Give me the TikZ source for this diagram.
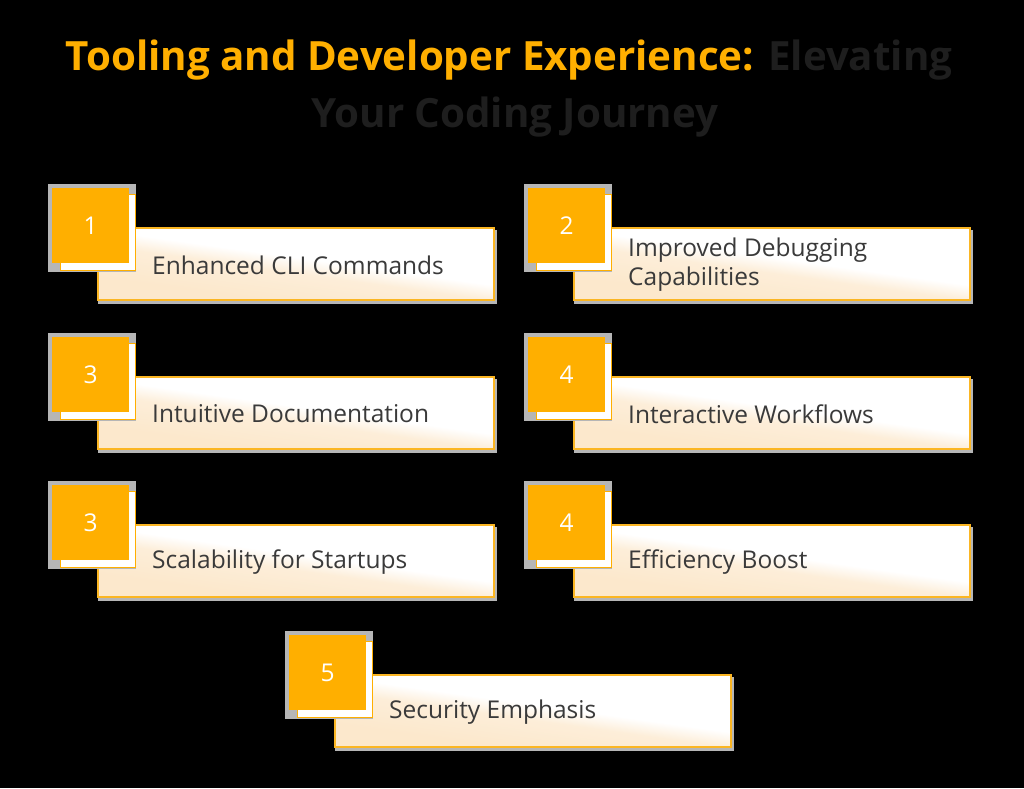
\documentclass[tikz,border=0pt]{standalone}
\usepackage{fontspec}
\setmainfont{Open Sans}
\definecolor{tile orange}{RGB}{255,175,0}
\definecolor{card edge}{RGB}{251,182,35}
\definecolor{card peach}{RGB}{252,232,204}
\definecolor{label grey}{RGB}{58,58,58}
\definecolor{shadow grey}{RGB}{182,182,182}
\definecolor{title dark}{RGB}{30,30,30}
\pgfdeclareverticalshading{card fade}{100bp}{color(0bp)=(card peach); color(32bp)=(card peach); color(46bp)=(card peach!75!white); color(53bp)=(white); color(100bp)=(white)}
\tikzset{numbox/.style={fill=tile orange, text=white, minimum width=77pt, minimum height=75pt,
		inner sep=0pt, anchor=north west, font=\fontsize{24.5}{28}\selectfont},
	backsquare/.style={fill=white, draw=tile orange, line width=1.2pt},
	cardbox/.style={shading=card fade, shading angle=-8, draw=card edge, line width=2pt},
	cardshadow/.style={fill=shadow grey},
	itemlabel/.style={text=label grey, font=\fontsize{24.5}{29}\selectfont, align=left,
		anchor=west, inner sep=0pt},
	titleline/.style={text=title dark, anchor=base, inner sep=0pt,
		font=\bfseries\fontsize{40.3}{56}\selectfont}}
% name, x, y (top left of the number tile), number, text
\newcommand\itemcard[5]{%
	\fill[cardshadow] (#2+46,#3+42) rectangle (#2+445,#3+116);
	\shadedraw[cardbox] (#2+46,#3+40) rectangle (#2+442,#3+112);
	\fill[cardshadow] (#2-4,#3-4) rectangle (#2+84,#3+84);
	\draw[backsquare] (#2+8.6,#3+6.6) rectangle (#2+83.4,#3+82.4);
	\node[numbox] (#1) at (#2,#3) {#4};
	\node[itemlabel] (#1 text) at (#2+100,#3+77) {#5};}

\begin{document}
\begin{tikzpicture}[x=1pt,y=-1pt]
		\fill[black] (0,0) rectangle (1024,788);
		\node[titleline] (title) at (509,70) {\textcolor{tile orange}{Tooling and Developer Experience:} Elevating};
		\node[titleline] (title 2) at (515,127) {Your Coding Journey};
		
		\itemcard{cli}{52}{188}{1}{Enhanced CLI Commands}
		\itemcard{debug}{528}{188}{2}{Improved Debugging\\Capabilities}
		\itemcard{docs}{52}{337}{3}{Intuitive Documentation}
		\itemcard{flows}{528}{337}{4}{Interactive Workflows}
		\itemcard{scale}{52}{485}{3}{Scalability for Startups}
		\itemcard{boost}{528}{485}{4}{Efficiency Boost}
		\itemcard{security}{289}{635}{5}{Security Emphasis}
		\end{tikzpicture}
\end{document}
